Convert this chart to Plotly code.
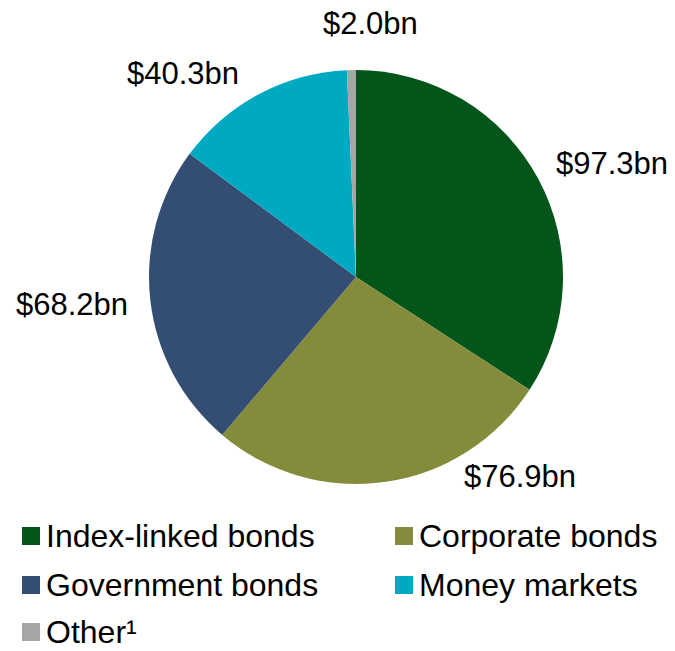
import plotly.graph_objects as go

# Asset allocation by holding type, in $bn
categories = ["Index-linked bonds", "Corporate bonds", "Government bonds", "Money markets", "Other¹"]
values = [97.3, 76.9, 68.2, 40.3, 2.0]
colors = ["#03551A", "#848C3C", "#334D73", "#00A9C2", "#A5A5A5"]

# Value-label anchor points (pixels from top-left of the canvas)
label_px = [(612, 163), (520, 476), (72, 304), (183, 73), (371, 23)]
# Legend grid: square-left x per column, row centre y
legend_cols = [22, 395]
legend_rows = [536, 585, 632]

W, H = 675, 651
cx, cy, r = 356, 277, 207
FONT = "Liberation Sans, Arial, sans-serif"


def px_x(x):
    return x / W


def px_y(y):
    return 1 - y / H


fig = go.Figure(
    go.Pie(
        labels=categories,
        values=values,
        marker=dict(colors=colors, line=dict(width=0)),
        sort=False,
        direction="clockwise",
        rotation=0,
        textinfo="none",
        hoverinfo="label+value",
        showlegend=False,
        domain=dict(
            x=[(cx - r) / W, (cx + r) / W],
            y=[(H - cy - r) / H, (H - cy + r) / H],
        ),
    )
)

# Slice value labels
for v, (x, y) in zip(values, label_px):
    fig.add_annotation(
        x=px_x(x), y=px_y(y), xref="paper", yref="paper",
        text=f"${v:.1f}bn", showarrow=False,
        font=dict(size=31, color="black", family=FONT),
        xanchor="center", yanchor="middle",
    )

# Two-column legend: colour square + category name
sq = 18
for i, (name, col) in enumerate(zip(categories, colors)):
    x0 = legend_cols[i % 2]
    yc = legend_rows[i // 2]
    fig.add_shape(
        type="rect", xref="paper", yref="paper",
        x0=px_x(x0), x1=px_x(x0 + sq),
        y0=px_y(yc + sq / 2), y1=px_y(yc - sq / 2),
        fillcolor=col, line=dict(width=0),
    )
    fig.add_annotation(
        x=px_x(x0 + 22), y=px_y(yc), xref="paper", yref="paper",
        text=name, showarrow=False,
        font=dict(size=32, color="black", family=FONT),
        xanchor="left", yanchor="middle",
    )

fig.update_layout(
    width=W, height=H,
    margin=dict(l=0, r=0, t=0, b=0, autoexpand=False),
    paper_bgcolor="white",
    plot_bgcolor="white",
    font=dict(family=FONT, color="black"),
    showlegend=False,
)

fig.write_html("out.html")
